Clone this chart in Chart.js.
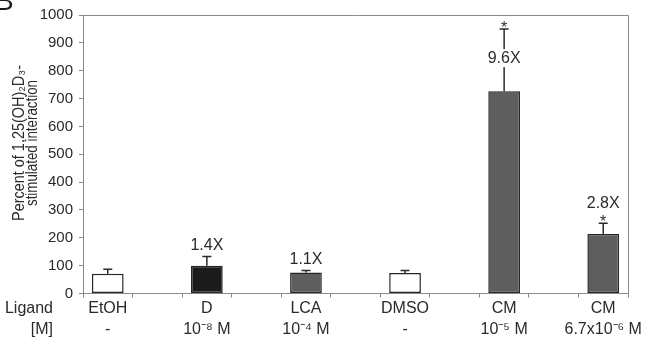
<!DOCTYPE html>
<html><head><meta charset="utf-8">
<script src="https://cdn.jsdelivr.net/npm/chart.js@4/dist/chart.umd.min.js"></script>
<style>html,body{margin:0;padding:0;background:#fff}#wrap{width:666px;height:364px}</style>
</head><body><div id="wrap"><canvas id="c" width="666" height="364"></canvas></div>
<script>
// ---- data ----
const ligands = ["EtOH", "D", "LCA", "DMSO", "CM", "CM"];
const concentrations = ["-", "10⁻⁸ M", "10⁻⁴ M", "-", "10⁻⁵ M", "6.7x10⁻⁶ M"];
const percentValues = [71, 100, 75, 74, 726, 214];
const errorValues = [16, 33, 8, 9, 224, 38];
const foldLabels = ["", "1.4X", "1.1X", "", "9.6X", "2.8X"];
const significant = [false, false, false, false, true, true];
const yTickValues = [0, 100, 200, 300, 400, 500, 600, 700, 800, 900, 1000];
const rowLabels = ["Ligand", "[M]"];
const yTitle = ["Percent of 1,25(OH)₂D₃-", "stimulated interaction"];

// ---- styles ----
const barFills = ["#ffffff", "#1b1b1b", "#5e5e5e", "#ffffff", "#5e5e5e", "#5e5e5e"];
const FONT = "'Liberation Sans', Arial, sans-serif";
const TEXT = "#2a2a2a";
const AXIS = "#8a8a8a";

// interleave empty slots between the groups (as in the original figure)
const labels = [], slotData = [], slotFill = [], slotIndex = [];
ligands.forEach((l, i) => {
  labels.push([l, concentrations[i]]); slotData.push(percentValues[i]); slotFill.push(barFills[i]); slotIndex.push(i);
  if (i < ligands.length - 1) { labels.push(""); slotData.push(null); slotFill.push("#fff"); slotIndex.push(-1); }
});

const framePlugin = {
  id: 'frame',
  beforeDatasetsDraw(chart) {
    const {ctx, chartArea: a} = chart;
    ctx.save();
    ctx.strokeStyle = AXIS; ctx.lineWidth = 1;
    ctx.beginPath();
    ctx.moveTo(a.left, a.top + 0.5); ctx.lineTo(a.right + 0.5, a.top + 0.5); ctx.lineTo(a.right + 0.5, a.bottom);
    ctx.stroke();
    ctx.restore();
  }
};

const errPlugin = {
  id: 'errs',
  afterDatasetsDraw(chart) {
    const {ctx} = chart;
    const y = chart.scales.y;
    const meta = chart.getDatasetMeta(0);
    ctx.save();
    slotIndex.forEach((gi, s) => {
      if (gi < 0) return;
      const el = meta.data[s];
      const x = el.x;
      const top = y.getPixelForValue(percentValues[gi]);
      const cap = y.getPixelForValue(percentValues[gi] + errorValues[gi]);
      ctx.strokeStyle = "#2a2a2a"; ctx.lineWidth = 1.5;
      ctx.beginPath();
      ctx.moveTo(x, top); ctx.lineTo(x, cap);
      ctx.moveTo(x - 4.5, cap); ctx.lineTo(x + 4.5, cap);
      ctx.stroke();
      ctx.fillStyle = TEXT;
      ctx.textAlign = 'center';
      if (significant[gi]) {
        ctx.font = "16px " + FONT;
        ctx.textBaseline = 'alphabetic';
        ctx.fillText("*", x, cap + 4);
      }
      const lab = foldLabels[gi];
      if (lab) {
        ctx.font = "16px " + FONT;
        ctx.textBaseline = 'middle';
        let ly;
        if (significant[gi] && top - cap > 60) {
          ly = (top + cap) / 2 - 2;
          const w = ctx.measureText(lab).width;
          ctx.fillStyle = "#fff";
          ctx.fillRect(x - w / 2 - 2, ly - 9, w + 4, 18);
          ctx.fillStyle = TEXT;
        } else if (significant[gi]) {
          ly = cap - 20;
        } else {
          ly = cap - 11;
        }
        ctx.fillText(lab, x, ly);
      }
    });
    ctx.restore();
  }
};

const textPlugin = {
  id: 'texts',
  afterDraw(chart) {
    const {ctx} = chart;
    const xs = chart.scales.x;
    const lh = 21;
    ctx.save();
    ctx.fillStyle = TEXT;
    ctx.font = "16px " + FONT;
    ctx.textAlign = 'right';
    ctx.textBaseline = 'middle';
    rowLabels.forEach((t, i) => ctx.fillText(t, 53, xs.top + 5 + lh / 2 + i * lh));
    // y-axis title (two rotated lines, slightly condensed like the original)
    ctx.font = "16px " + FONT;
    ctx.textAlign = 'center';
    const widths = [156, 126];
    const xpos = [19.5, 33];
    yTitle.forEach((t, i) => {
      ctx.save();
      ctx.translate(xpos[i], 143);
      ctx.rotate(-Math.PI / 2);
      ctx.fillText(t, 0, 0, widths[i]);
      ctx.restore();
    });
    // panel letter (cut off at the top-left edge)
    ctx.font = "28px " + FONT;
    ctx.textAlign = 'left';
    ctx.textBaseline = 'alphabetic';
    ctx.fillStyle = "#1a1a1a";
    ctx.fillText("B", -5, 10);
    ctx.restore();
  }
};

new Chart(document.getElementById('c'), {
  type: 'bar',
  data: {
    labels: labels,
    datasets: [{
      data: slotData,
      backgroundColor: slotFill,
      borderColor: "#262626",
      borderWidth: 1.5,
      borderSkipped: false,
      barPercentage: 0.64,
      categoryPercentage: 1
    }]
  },
  options: {
    responsive: false,
    animation: false,
    devicePixelRatio: 1,
    layout: {padding: {top: 11, right: 38, left: 0, bottom: 0}},
    plugins: {legend: {display: false}, tooltip: {enabled: false}},
    scales: {
      x: {
        grid: {drawOnChartArea: false, drawTicks: true, tickLength: 4, color: AXIS, offset: true},
        border: {color: AXIS, width: 1},
        ticks: {autoSkip: false, maxRotation: 0, minRotation: 0, padding: 1, color: TEXT,
                font: {family: FONT, size: 16, lineHeight: 1.3125}},
        afterFit(s) { s.height = 70.5; }
      },
      y: {
        min: 0, max: 1000,
        afterBuildTicks(s) { s.ticks = yTickValues.map(v => ({value: v})); },
        ticks: {padding: 6, color: TEXT, font: {family: FONT, size: 15}, callback: v => String(v)},
        grid: {drawOnChartArea: false, drawTicks: true, tickLength: 4, color: AXIS},
        border: {color: AXIS, width: 1},
        title: {display: false, text: yTitle},
        afterFit(s) { s.width = 83; }
      }
    }
  },
  plugins: [framePlugin, errPlugin, textPlugin]
});
</script></body></html>
